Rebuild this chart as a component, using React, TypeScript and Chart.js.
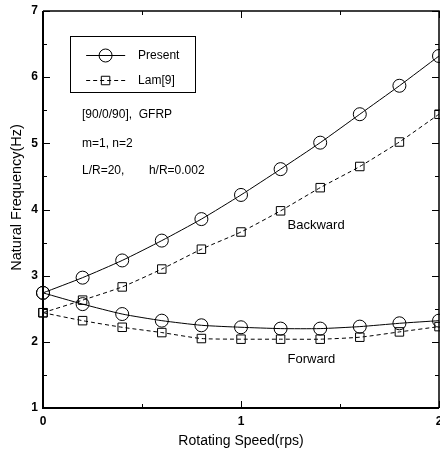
import React, { useEffect, useRef } from "react";
import { Chart, registerables } from "chart.js";

Chart.register(...registerables);

const speeds = [0, 0.2, 0.4, 0.6, 0.8, 1.0, 1.2, 1.4, 1.6, 1.8, 2.0];
const presentBackward = [2.74, 2.97, 3.23, 3.53, 3.855, 4.22, 4.61, 5.01, 5.44, 5.87, 6.32];
const presentForward = [2.74, 2.57, 2.42, 2.32, 2.25, 2.22, 2.2, 2.2, 2.23, 2.28, 2.32];
const lamBackward = [2.44, 2.63, 2.83, 3.1, 3.4, 3.66, 3.98, 4.33, 4.65, 5.02, 5.44];
const lamForward = [2.44, 2.32, 2.22, 2.14, 2.05, 2.04, 2.04, 2.04, 2.07, 2.15, 2.23];

const xMin = 0;
const xMax = 2;
const yMin = 1;
const yMax = 7;
const minorXTicks = [0.5, 1.5];
const minorYTicks = [1.5, 2.5, 3.5, 4.5, 5.5, 6.5];
const majorXTicks = [0, 1, 2];
const majorYTicks = [1, 2, 3, 4, 5, 6, 7];

const seriesNames = ["Present", "Lam[9]"];
const annotations = [
  { text: "[90/0/90],  GFRP", x: 0.197, y: 5.43 },
  { text: "m=1, n=2", x: 0.197, y: 5.0 },
  { text: "L/R=20,", x: 0.197, y: 4.58 },
  { text: "h/R=0.002", x: 0.535, y: 4.58 },
];
const branchLabels = [
  { text: "Backward", x: 1.235, y: 3.76 },
  { text: "Forward", x: 1.235, y: 1.74 },
];

const FONT = "'Liberation Sans', Arial, sans-serif";

const pts = (ys: number[]) => speeds.map((x, i) => ({ x, y: ys[i] }));

const presentStyle = {
  borderColor: "#000",
  borderWidth: 1,
  pointStyle: "circle",
  pointRadius: 6.5,
  pointBorderWidth: 1,
  pointBackgroundColor: "rgba(0,0,0,0)",
  pointBorderColor: "#000",
  borderDash: [] as number[],
  tension: 0.2,
  clip: false as const,
};
const lamStyle = {
  borderColor: "#000",
  borderWidth: 1,
  pointStyle: "rect",
  pointRadius: 6,
  pointBorderWidth: 1,
  pointBackgroundColor: "rgba(0,0,0,0)",
  pointBorderColor: "#000",
  borderDash: [4, 3],
  tension: 0.2,
  clip: false as const,
};

const framePlugin = {
  id: "frameAndTicks",
  afterDatasetsDraw(chart: any) {
    const { ctx, chartArea: a, scales } = chart;
    const xs = scales.x;
    const ys = scales.y;
    ctx.save();
    ctx.strokeStyle = "#000";
    // frame
    ctx.lineWidth = 1.5;
    ctx.beginPath();
    ctx.moveTo(a.left, a.top);
    ctx.lineTo(a.right, a.top);
    ctx.lineTo(a.right, a.bottom);
    ctx.stroke();
    ctx.lineWidth = 2;
    ctx.beginPath();
    ctx.moveTo(a.left, a.top);
    ctx.lineTo(a.left, a.bottom);
    ctx.lineTo(a.right, a.bottom);
    ctx.stroke();
    // ticks
    ctx.lineWidth = 1;
    const drawY = (v: number, len: number) => {
      const p = Math.round(ys.getPixelForValue(v)) + 0.5;
      ctx.beginPath();
      ctx.moveTo(a.left, p);
      ctx.lineTo(a.left + len, p);
      ctx.moveTo(a.right, p);
      ctx.lineTo(a.right - len, p);
      ctx.stroke();
    };
    const drawX = (v: number, len: number) => {
      const p = Math.round(xs.getPixelForValue(v)) + 0.5;
      ctx.beginPath();
      ctx.moveTo(p, a.bottom);
      ctx.lineTo(p, a.bottom - len);
      ctx.moveTo(p, a.top);
      ctx.lineTo(p, a.top + len);
      ctx.stroke();
    };
    majorYTicks.forEach((v) => drawY(v, 7));
    minorYTicks.forEach((v) => drawY(v, 4));
    majorXTicks.forEach((v) => drawX(v, 7));
    minorXTicks.forEach((v) => drawX(v, 4));

    // annotations
    ctx.fillStyle = "#000";
    ctx.textBaseline = "middle";
    ctx.textAlign = "left";
    ctx.font = `12px ${FONT}`;
    annotations.forEach((t) => {
      ctx.fillText(t.text, xs.getPixelForValue(t.x), ys.getPixelForValue(t.y));
    });
    ctx.font = `13px ${FONT}`;
    branchLabels.forEach((t) => {
      ctx.fillText(t.text, xs.getPixelForValue(t.x), ys.getPixelForValue(t.y));
    });

    // legend box
    const bx0 = xs.getPixelForValue(0.137);
    const bx1 = xs.getPixelForValue(0.77);
    const by0 = ys.getPixelForValue(6.62);
    const by1 = ys.getPixelForValue(5.77);
    ctx.fillStyle = "#fff";
    ctx.fillRect(bx0, by0, bx1 - bx0, by1 - by0);
    ctx.lineWidth = 1;
    ctx.strokeRect(Math.round(bx0) + 0.5, Math.round(by0) + 0.5, Math.round(bx1 - bx0), Math.round(by1 - by0));
    const rows = [
      { name: seriesNames[0], y: 6.33, ds: chart.data.datasets[0] },
      { name: seriesNames[1], y: 5.95, ds: chart.data.datasets[2] },
    ];
    const lx0 = xs.getPixelForValue(0.218);
    const lx1 = xs.getPixelForValue(0.415);
    const mx = xs.getPixelForValue(0.316);
    const tx = xs.getPixelForValue(0.48);
    rows.forEach((r) => {
      const py = Math.round(ys.getPixelForValue(r.y)) + 0.5;
      ctx.strokeStyle = "#000";
      ctx.lineWidth = 1;
      ctx.setLineDash(r.ds.borderDash || []);
      ctx.beginPath();
      ctx.moveTo(lx0, py);
      ctx.lineTo(lx1, py);
      ctx.stroke();
      ctx.setLineDash([]);
      ctx.beginPath();
      if (r.ds.pointStyle === "circle") {
        ctx.arc(mx, py, r.ds.pointRadius, 0, Math.PI * 2);
      } else {
        const s = r.ds.pointRadius * Math.SQRT1_2;
        ctx.rect(mx - s, py - s, 2 * s, 2 * s);
      }
      ctx.stroke();
      ctx.fillStyle = "#000";
      ctx.font = `12px ${FONT}`;
      ctx.textAlign = "left";
      ctx.textBaseline = "middle";
      ctx.fillText(r.name, tx, py);
    });
    ctx.restore();
  },
};

export default function App() {
  const ref = useRef<HTMLCanvasElement | null>(null);
  useEffect(() => {
    if (!ref.current) return;
    const chart = new Chart(ref.current, {
      type: "line",
      data: {
        datasets: [
          { label: "Present", data: pts(presentBackward), ...presentStyle },
          { label: "Present", data: pts(presentForward), ...presentStyle },
          { label: "Lam[9]", data: pts(lamBackward), ...lamStyle },
          { label: "Lam[9]", data: pts(lamForward), ...lamStyle },
        ] as any,
      },
      options: {
        animation: false,
        responsive: false,
        devicePixelRatio: 1,
        layout: { autoPadding: false, padding: { top: 11, right: 1, left: 0, bottom: 0 } },
        plugins: { legend: { display: false }, tooltip: { enabled: false } },
        scales: {
          x: {
            type: "linear",
            min: xMin,
            max: xMax,
            ticks: {
              stepSize: 1,
              color: "#000",
              padding: 6,
              maxRotation: 0,
              font: { family: FONT, size: 12, weight: "bold" },
              callback: (v: any) => String(v),
            },
            grid: { display: false, drawTicks: false },
            border: { display: false },
            title: {
              display: true,
              text: "Rotating Speed(rps)",
              color: "#000",
              font: { family: FONT, size: 14 },
              padding: { top: 0, bottom: 3 },
            },
            afterFit: (s: any) => {
              s.height = 45;
              s.paddingLeft = 0;
              s.paddingRight = 0;
            },
          },
          y: {
            type: "linear",
            min: yMin,
            max: yMax,
            ticks: {
              stepSize: 1,
              color: "#000",
              padding: 5,
              font: { family: FONT, size: 12, weight: "bold" },
              callback: (v: any) => String(v),
            },
            grid: { display: false, drawTicks: false },
            border: { display: false },
            title: {
              display: true,
              text: "      Natural Frequency(Hz)",
              color: "#000",
              font: { family: FONT, size: 14.5 },
              padding: { top: 8, bottom: 0 },
            },
            afterFit: (s: any) => {
              s.width = 43;
              s.paddingTop = 0;
              s.paddingBottom = 0;
            },
          },
        },
      } as any,
      plugins: [framePlugin],
    });
    return () => chart.destroy();
  }, []);
  return (
    <div style={{ position: "fixed", left: 0, top: 0, width: 440, height: 453, background: "#fff" }}>
      <canvas ref={ref} width={440} height={453} style={{ display: "block", width: 440, height: 453 }} />
    </div>
  );
}
